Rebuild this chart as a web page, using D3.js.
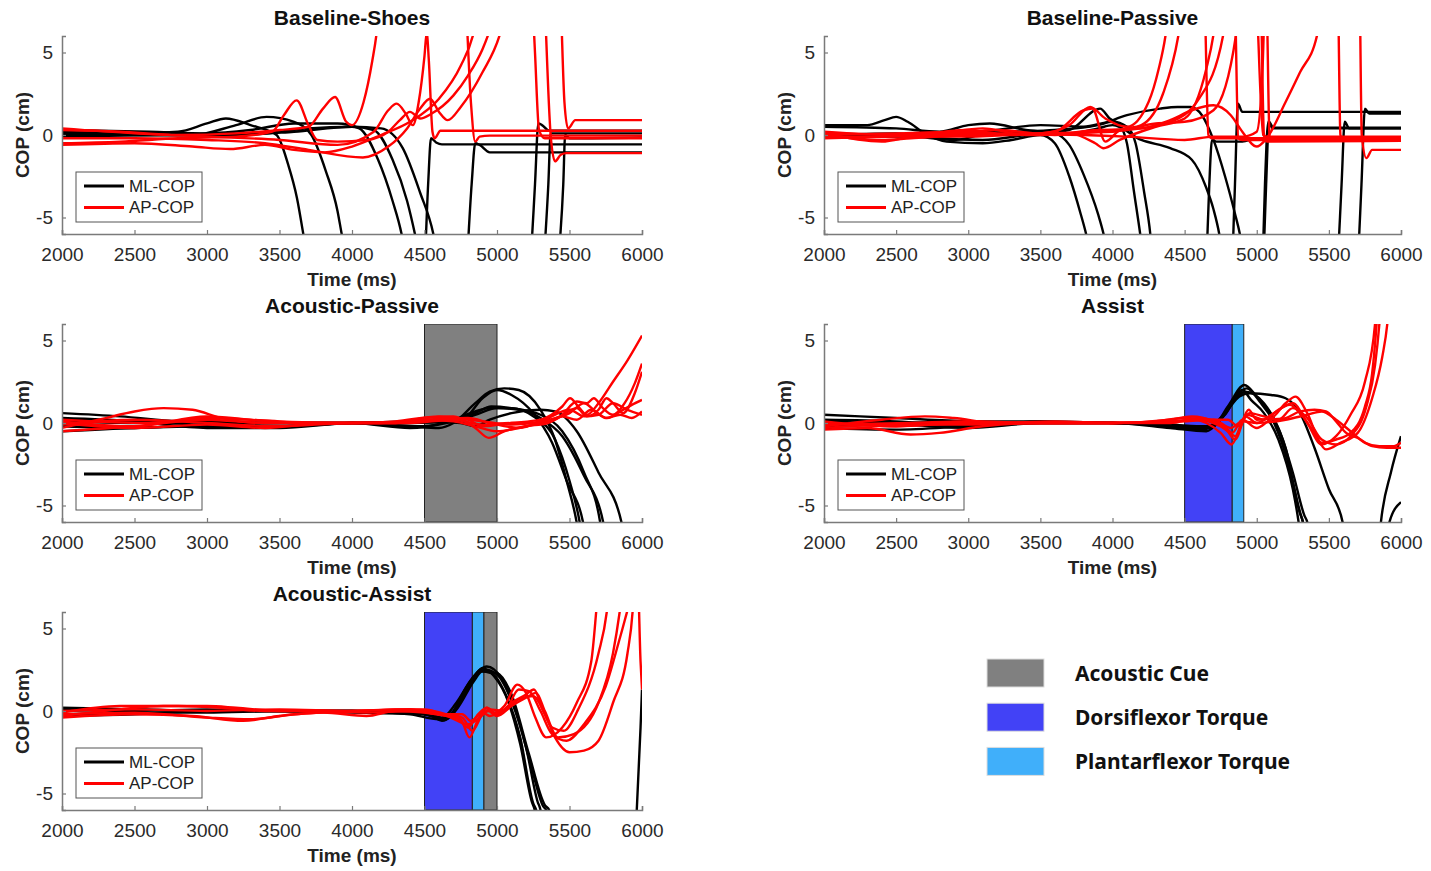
<!DOCTYPE html>
<html>
<head>
<meta charset="utf-8">
<script src="https://cdn.jsdelivr.net/npm/d3@7"></script>
<style>
  body { margin: 0; background: #fff; }
  svg { display: block; }
  .tick-label { font-family: "Liberation Sans", Arial, sans-serif; font-size: 19px; fill: #2a2a2a; }
  .ax-label { font-family: "Liberation Sans", Arial, sans-serif; font-size: 19px; font-weight: bold; fill: #222; }
  .ax-title { font-family: "Liberation Sans", Arial, sans-serif; font-size: 21px; font-weight: bold; fill: #111; }
  .leg-text { font-family: "Liberation Sans", Arial, sans-serif; font-size: 17px; fill: #222; }
  .key-text { font-family: "Noto Sans", "Open Sans", sans-serif; font-size: 21px; font-weight: bold; fill: #111; }
</style>
</head>
<body>
<div id="chart"></div>
<script>
// ---- data (time in ms, COP in cm) ----
const timeTicks = [2000, 2500, 3000, 3500, 4000, 4500, 5000, 5500, 6000];
const copTicks = [-5, 0, 5];
const panelTitles = ['Baseline-Shoes', 'Baseline-Passive', 'Acoustic-Passive', 'Assist', 'Acoustic-Assist'];
const keyLabels = ['Acoustic Cue', 'Dorsiflexor Torque', 'Plantarflexor Torque'];

// Baseline-Shoes
const shoesML = [
  [[2000,0.2],[2500,0.1],[2800,0.2],[3000,0.7],[3130,1.0],[3300,0.6],[3480,0],[3560,-1.8],[3620,-3.8],[3664,-6],[3700,-8],[3800,-15],[4400,-15],[4500,-8],[4525,-3],[4545,-0.2],[4580,-0.45],[4620,-0.57],[6000,-0.57]],
  [[2000,0],[2500,0],[2900,0],[3200,0.6],[3411,1.1],[3600,0.8],[3720,0],[3820,-2.2],[3900,-4.6],[3929,-6],[4000,-9],[4100,-15],[4700,-15],[4790,-8],[4825,-3],[4850,-0.5],[4880,-0.6],[4950,-1.05],[6000,-1.05]],
  [[2000,0.3],[2600,0.2],[3000,0.1],[3300,0.3],[3600,0.7],[3900,0.7],[4050,0.4],[4180,-1.5],[4280,-4],[4342,-6],[4400,-9],[4500,-15],[5150,-15],[5230,-8],[5262,-3],[5285,0.7],[5310,0.6],[5360,0.26],[6000,0.26]],
  [[2000,0.1],[2600,0],[3000,0],[3400,0.1],[3700,0.4],[4000,0.5],[4150,0.3],[4280,-1.5],[4380,-4],[4434,-6],[4500,-9],[4600,-15],[5250,-15],[5320,-8],[5354,-3],[5370,0.1],[6000,0.1]],
  [[2000,-0.1],[2700,0],[3200,0],[3600,0.2],[4000,0.5],[4200,0.4],[4350,-0.8],[4470,-3.5],[4561,-6],[4620,-9],[4700,-15],[5350,-15],[5420,-8],[5457,-3],[5470,0],[5500,-0.2],[6000,-0.15]]
];
const shoesAP = [
  [[2000,0.3],[2400,0.2],[2800,0],[3200,0.1],[3500,0.3],[3700,0.5],[3800,1.6],[3883,2.3],[3960,0.8],[4000,0.6],[4080,2.0],[4140,4.5],[4170,6.2],[4200,9],[4260,15],[4700,15],[4780,9],[4820,2],[4850,-0.4],[4880,-0.1],[4950,-0.04],[6000,-0.04]],
  [[2000,-0.5],[2400,-0.4],[2800,-0.2],[3200,-0.1],[3450,0.2],[3530,1.2],[3618,2.1],[3700,0.6],[3760,-0.3],[3900,-0.4],[4100,-0.3],[4250,0.2],[4330,0.9],[4400,1.4],[4470,1.0],[4550,1.3],[4700,2.4],[4800,3.6],[4900,5.2],[4940,6.1],[5000,8],[5100,15],[5200,15],[5240,9],[5262,5],[5290,0.3],[5330,-0.2],[6000,-0.2]],
  [[2000,0.4],[2500,0.1],[3000,-0.1],[3500,-0.3],[3900,-0.6],[4150,0.2],[4250,1.5],[4308,1.9],[4370,1.3],[4420,0.6],[4460,2],[4500,4.8],[4515,6.2],[4530,4.5],[4555,0.2],[4570,-0.2],[4610,0.26],[6000,0.26]],
  [[2000,-0.6],[2500,-0.5],[2900,-0.7],[3160,-0.85],[3400,-0.6],[3600,-0.9],[3810,-1.05],[4000,-0.7],[4200,0],[4400,0.8],[4600,2.2],[4750,4.2],[4836,6.1],[4900,9],[5000,15],[5300,15],[5330,8],[5370,0],[5400,-1.6],[5440,-1.2],[5480,-1.1],[6000,-1.1]],
  [[2000,-0.2],[2500,-0.2],[3000,-0.3],[3400,-0.5],[3700,-0.9],[4075,-1.36],[4250,-0.7],[4380,0.4],[4470,1.6],[4538,2.2],[4600,1.4],[4660,0.9],[4750,1.7],[4900,3.8],[5020,6.1],[5100,9],[5200,15],[5400,15],[5440,8],[5465,2],[5490,0.4],[5540,0.9],[6000,0.9]]
];

// Baseline-Passive
const passiveML = [
  [[2000,0.6],[2300,0.6],[2420,0.9],[2500,1.1],[2580,0.8],[2700,0.1],[2850,-0.4],[3100,-0.5],[3300,-0.3],[3500,0],[3600,-0.5],[3700,-2.5],[3780,-4.8],[3817,-6],[3900,-10],[4000,-15],[4600,-15],[4650,-8],[4671,-3],[4690,-0.3],[4720,-0.4],[4900,-0.4],[5000,-0.2],[6000,-0.2]],
  [[2000,0.5],[2500,0.4],[2800,0.2],[3000,0.6],[3150,0.7],[3400,0.3],[3600,0.1],[3700,-0.6],[3800,-2.4],[3900,-4.8],[3938,-6],[4000,-9],[4100,-15],[4800,-15],[4830,-8],[4849,-3],[4870,1.9],[4900,1.4],[6000,1.4]],
  [[2000,0],[2500,0.1],[2800,-0.2],[3100,-0.3],[3400,0],[3700,0.3],[3914,1.6],[3980,1.0],[4050,0.6],[4100,-0.5],[4150,-3.5],[4192,-6],[4250,-10],[4300,-15],[5000,-15],[5040,-8],[5057,-3],[5080,0.8],[5110,0.4],[6000,0.4]],
  [[2000,-0.1],[2600,-0.1],[2900,-0.3],[3200,0.3],[3500,0.6],[3800,0.5],[4000,0.8],[4100,0.5],[4160,-0.5],[4220,-3.5],[4262,-6],[4300,-10],[4400,-15],[5000,-15],[5045,-8],[5065,-3],[5085,0.8],[5115,0.45],[6000,0.45]],
  [[2000,0],[2800,0],[3300,0.2],[3600,0.3],[3900,0.6],[4100,1.2],[4330,1.6],[4450,1.7],[4540,1.7],[4620,1.2],[4700,-0.3],[4780,-2.5],[4850,-4.8],[4883,-6],[4950,-10],[5050,-15],[5500,-15],[5560,-8],[5588,-3],[5610,0.8],[5640,0.4],[6000,0.4]],
  [[2000,0.1],[2800,0],[3300,0.1],[3700,0.1],[3900,0.4],[4000,0.6],[4200,-0.3],[4400,-0.8],[4550,-1.5],[4650,-3.2],[4700,-4.5],[4740,-6],[4800,-10],[4900,-15],[5650,-15],[5700,-8],[5726,-3],[5750,1.6],[5780,1.3],[6000,1.3]]
];
const passiveAP = [
  [[2000,0.1],[2400,-0.4],[2600,-0.1],[3000,0.3],[3200,0.1],[3500,0.1],[3700,0.6],[3845,1.7],[3950,1.0],[4100,0.5],[4250,2],[4320,4],[4367,6],[4420,10],[4500,15],[4600,15],[4640,8],[4665,0],[4690,-0.2],[6000,-0.2]],
  [[2000,0],[2500,0.1],[3000,0.2],[3300,0],[3600,0.2],[3800,1.5],[3860,1.6],[3950,-0.4],[4050,0.3],[4200,0.6],[4350,2.5],[4456,6],[4520,10],[4600,15],[4800,15],[4850,8],[4872,-0.2],[4900,-0.3],[6000,-0.3]],
  [[2000,-0.2],[2400,-0.1],[2800,0.1],[3100,0.4],[3400,0],[3700,0.1],[3880,-0.5],[3938,-0.8],[4050,-0.3],[4300,0.5],[4500,1.0],[4650,4],[4700,6.1],[4750,10],[4850,15],[5000,15],[5030,8],[5050,0],[5070,-0.4],[6000,-0.35]],
  [[2000,0.2],[2500,0],[3000,0.1],[3500,0],[3900,0.3],[4200,0.4],[4400,0.9],[4550,1.5],[4700,1.8],[4820,1.2],[4900,0.2],[5000,-0.7],[5060,-0.3],[5200,2.0],[5300,3.8],[5417,6],[5480,10],[5520,15],[5550,15],[5565,8],[5580,0],[5600,-0.3],[6000,-0.2]],
  [[2000,0],[2400,-0.3],[2600,-0.2],[3000,0],[3500,0.05],[3800,0],[4100,-0.1],[4500,-0.3],[4700,-0.1],[4900,-0.1],[5000,0.2],[5040,4],[5060,10],[5080,15],[5700,15],[5715,8],[5728,0],[5760,-1.4],[5800,-0.9],[6000,-0.9]],
  [[2000,0.1],[2800,0],[3200,0.3],[3600,0],[3900,0.2],[4100,0.3],[4400,0.8],[4600,2.2],[4766,6],[4800,9],[4850,15],[4950,15],[5000,8],[5045,0],[5070,-0.1],[6000,-0.1]],
  [[2000,-0.1],[3000,-0.1],[3500,0.1],[4000,0.2],[4300,0.7],[4500,0.8],[4700,1.5],[4855,6],[4900,10],[4950,15],[5050,15],[5070,8],[5090,-0.2],[6000,-0.15]]
];

// Acoustic-Passive
const acPassiveML = [
  [[2000,0.6],[2400,0.4],[2800,0.1],[3200,0],[3600,0],[4000,0],[4400,-0.2],[4600,-0.3],[4700,0],[4850,1.2],[4950,1.9],[5050,2.1],[5150,2.0],[5300,0.8],[5400,-1],[5480,-3.5],[5549,-6],[5600,-9],[5700,-15],[6000,-15]],
  [[2000,0.2],[2500,0.1],[3000,-0.1],[3500,0],[4000,0],[4400,-0.3],[4650,0],[4780,0.3],[4900,1.5],[5000,2.0],[5100,1.7],[5250,0.6],[5380,-1.2],[5480,-3.5],[5593,-6],[5650,-9],[5700,-15],[6000,-15]],
  [[2000,-0.2],[2500,-0.3],[3000,-0.1],[3500,-0.2],[4000,0],[4400,0.1],[4700,0.2],[4850,0.6],[4960,1.0],[5100,0.9],[5300,0.5],[5450,-0.5],[5600,-3],[5711,-6],[5750,-9],[5800,-15],[6000,-15]],
  [[2000,-0.5],[2500,-0.3],[3000,-0.2],[3500,-0.2],[4000,0],[4400,0],[4700,0.1],[4850,0.5],[5000,0.9],[5150,0.8],[5300,0.3],[5450,-0.8],[5600,-3.2],[5732,-6],[5780,-9],[5850,-15],[6000,-15]],
  [[2000,0.1],[2500,0],[3000,0.1],[3500,0],[4000,0],[4500,0.1],[4750,0],[4850,-0.2],[4950,0.2],[5100,0.6],[5300,0.8],[5400,0.7],[5550,-0.5],[5700,-3],[5858,-6],[5900,-9],[6000,-15]],
  [[2000,0.3],[2500,0.1],[3000,-0.3],[3500,-0.3],[4000,0],[4500,-0.2],[4700,0.2],[4850,0.7],[4950,0.9],[5100,0.9],[5250,0.4],[5400,-1],[5500,-3.5],[5570,-6],[5620,-9],[5700,-15],[6000,-15]]
];
const acPassiveAP = [
  [[2000,-0.3],[2300,0.3],[2500,0.7],[2700,0.9],[2900,0.8],[3100,0.3],[3400,0],[3700,0],[4000,0],[4300,0.1],[4600,0.4],[4800,0.2],[4900,-0.2],[5100,0],[5300,0.2],[5450,1.0],[5504,1.5],[5560,1.0],[5620,0.5],[5700,1.2],[5800,2.5],[5900,3.8],[6000,5.3]],
  [[2000,0.1],[2500,-0.2],[3000,0.4],[3300,0.2],[3700,0],[4000,0],[4300,0],[4500,0.3],[4700,0.4],[4850,-0.3],[4944,-0.9],[5050,-0.5],[5200,-0.2],[5350,0],[5450,0.5],[5550,1.3],[5620,1.2],[5667,1.5],[5730,0.9],[5800,0.5],[5880,1.2],[5950,2.4],[6000,3.6]],
  [[2000,-0.5],[2500,-0.2],[3000,0.2],[3400,0],[3800,0],[4200,0],[4500,0.2],[4700,0.1],[4850,-0.2],[5000,-0.5],[5200,-0.2],[5400,0.2],[5550,0.9],[5620,0.4],[5700,0.8],[5755,1.5],[5800,1.2],[5870,0.6],[5950,1.8],[6000,3.1]],
  [[2000,0.2],[2600,0],[3000,0.3],[3500,0.1],[4000,0],[4400,0.1],[4700,0.3],[4900,0.1],[5100,-0.1],[5300,0.1],[5500,0.6],[5600,1.2],[5680,0.7],[5760,0.3],[5850,0.7],[5930,1.1],[6000,1.4]],
  [[2000,-0.1],[2500,0.2],[3000,0],[3500,-0.2],[4000,0],[4400,0],[4700,0.2],[4900,-0.1],[5100,0],[5300,0],[5450,0.4],[5550,0.2],[5650,0.8],[5750,0.3],[5850,0.5],[5930,0.3],[6000,0.7]],
  [[2000,0],[2500,-0.3],[3000,-0.1],[3400,-0.3],[3800,0],[4300,0],[4600,0.2],[4800,0.3],[4950,0],[5150,-0.3],[5350,0.3],[5500,0.8],[5600,0.4],[5700,0.5],[5800,1.2],[5900,0.8],[6000,0.5]]
];

// Assist
const assistML = [
  [[2000,0.5],[2500,0.3],[3000,0.1],[3500,0],[4000,0],[4400,-0.2],[4600,-0.4],[4700,-0.2],[4800,1.0],[4914,2.3],[5000,1.6],[5100,0.5],[5200,-1.5],[5300,-5.5],[5320,-6],[5360,-9],[5500,-15],[6000,-15]],
  [[2000,0.2],[2500,0.1],[3000,-0.2],[3500,0.1],[4000,0],[4400,-0.1],[4600,-0.3],[4720,0],[4830,1.3],[4930,2.1],[5020,1.3],[5120,0],[5220,-2.5],[5300,-5.4],[5320,-6],[5370,-9],[5500,-15],[6000,-15]],
  [[2000,-0.2],[2500,-0.1],[3000,-0.3],[3500,0],[4000,0],[4400,-0.3],[4650,-0.5],[4750,0.2],[4850,1.4],[4920,1.9],[5050,1.2],[5150,-0.3],[5250,-3.0],[5330,-5.6],[5350,-6],[5400,-9],[5500,-15],[6000,-15]],
  [[2000,-0.3],[2500,-0.4],[3000,-0.2],[3500,0],[4000,0],[4400,-0.2],[4650,-0.3],[4780,0.6],[4880,1.6],[4950,1.8],[5100,1.7],[5200,1.5],[5300,0.6],[5400,-1.5],[5500,-4],[5595,-6],[5650,-9],[5700,-15],[5800,-15],[5830,-9],[5861,-6],[5930,-3],[6000,-0.8]],
  [[2000,0.1],[2500,0],[3000,0.1],[3500,0.1],[4000,0],[4400,-0.1],[4650,-0.2],[4780,0.5],[4900,2.0],[4960,1.4],[5050,0.6],[5150,-1.0],[5250,-4],[5290,-6],[5330,-9],[5500,-15],[5880,-15],[5920,-6],[6000,-4.8]]
];
const assistAP = [
  [[2000,-0.4],[2300,-0.3],[2600,-0.7],[2800,-0.6],[3100,-0.2],[3500,0],[4000,0],[4300,0.1],[4500,0.3],[4650,0],[4750,-0.6],[4825,-1.3],[4880,-0.4],[4944,0.8],[5000,0.2],[5100,0.3],[5200,1.2],[5269,1.6],[5350,0.6],[5450,-1.2],[5550,-1.0],[5650,-0.6],[5750,1],[5800,3],[5831,6],[5860,10],[5900,15],[6000,15]],
  [[2000,-0.2],[2400,0.2],[2700,0.4],[2900,0.3],[3200,0],[3600,0.1],[4000,0],[4400,0.2],[4550,0.4],[4700,0.1],[4800,-0.4],[4850,-0.8],[4920,0.4],[5000,0],[5100,0.5],[5230,1.1],[5300,0.6],[5400,-0.6],[5480,-1.6],[5580,-1.2],[5700,-0.6],[5800,1.5],[5870,4],[5905,6],[5940,10],[6000,15]],
  [[2000,0],[2500,-0.2],[3000,0],[3500,0],[4000,0],[4400,0.1],[4600,0.2],[4750,-0.2],[4830,-0.6],[4900,0.2],[5000,-0.3],[5100,0.2],[5200,0.3],[5300,0.7],[5400,0.8],[5480,0.7],[5550,0.1],[5620,-0.6],[5700,-0.9],[5800,-1.4],[5900,-1.5],[6000,-1.5]],
  [[2000,-0.3],[2500,-0.1],[3000,-0.1],[3500,0],[4000,0],[4400,0],[4600,0.3],[4780,-0.3],[4850,-1.0],[4930,0.5],[5050,0.2],[5150,0.8],[5250,1.2],[5350,0],[5450,-1.3],[5550,-0.8],[5650,0.5],[5750,2.5],[5820,6],[5850,10],[5900,15],[6000,15]],
  [[2000,-0.1],[2600,0],[3000,0.1],[3500,0],[4000,0],[4400,0.1],[4600,0.2],[4800,0.2],[4870,-0.2],[4950,0.6],[5050,0.4],[5150,0.2],[5250,0.9],[5350,0.3],[5450,-1.0],[5550,-1.3],[5650,-0.8],[5760,1],[5820,3.5],[5850,6],[5880,10],[5950,15],[6000,15]],
  [[2000,0.1],[2500,-0.2],[3000,0.1],[3500,0],[4000,0],[4500,0.1],[4700,0.2],[4820,-0.3],[4900,0.1],[5000,0],[5200,0.2],[5350,0.5],[5450,0.7],[5550,0.2],[5650,-0.5],[5750,-1.2],[5850,-1.4],[5950,-1.4],[6000,-1.2]]
];

// Acoustic-Assist
const acAssistML = [
  [[2000,0.2],[2500,0.1],[3000,0],[3500,0],[4000,0],[4400,-0.1],[4550,-0.3],[4620,-0.6],[4680,-0.3],[4760,1.0],[4850,2.2],[4900,2.6],[4980,2.1],[5080,0.5],[5160,-2],[5240,-5.5],[5260,-6],[5300,-9],[5400,-15],[6000,-15]],
  [[2000,-0.2],[2500,-0.1],[3000,-0.1],[3500,0],[4000,0],[4400,-0.2],[4600,-0.5],[4700,0],[4800,1.6],[4920,2.5],[5000,2.2],[5100,0.6],[5200,-2.2],[5280,-5.5],[5300,-6],[5340,-9],[5450,-15],[6000,-15]],
  [[2000,0.1],[2500,0],[3000,0.1],[3500,0],[4000,-0.1],[4500,-0.2],[4620,-0.4],[4720,0.5],[4830,2.0],[4930,2.7],[5030,2.0],[5130,0],[5240,-3.5],[5320,-5.8],[5340,-6],[5380,-9],[5500,-15],[6000,-15]],
  [[2000,-0.3],[2500,-0.2],[3000,0],[3500,0],[4000,0],[4500,-0.1],[4650,-0.5],[4730,0.2],[4840,1.8],[4900,2.4],[5000,2.3],[5100,1],[5220,-2.6],[5330,-5.7],[5360,-6],[5400,-9],[5500,-15],[5900,-15],[5940,-9],[5964,-6],[5990,-1],[6000,1.3]],
  [[2000,0],[2500,0.1],[3000,0],[3500,0],[4000,0],[4500,-0.2],[4620,-0.5],[4700,-0.1],[4800,1.4],[4890,2.4],[4960,2.3],[5060,1.0],[5160,-1.6],[5250,-5.6],[5270,-6],[5320,-9],[5400,-15],[6000,-15]]
];
const acAssistAP = [
  [[2000,-0.3],[2400,0.1],[2700,0.3],[3000,0.3],[3200,0.2],[3500,0],[4000,0],[4400,0.1],[4550,0],[4650,-0.3],[4750,-0.5],[4810,-1.6],[4870,-0.5],[4930,0.2],[4980,-0.1],[5050,0.3],[5140,1.6],[5200,1.1],[5260,-0.3],[5340,-1.6],[5450,-1.0],[5550,0.5],[5650,3],[5684,6],[5720,10],[5800,15],[6000,15]],
  [[2000,-0.1],[2400,0.3],[2800,0.3],[3100,0.2],[3400,0],[3800,0],[4100,-0.1],[4400,0],[4600,-0.2],[4720,-0.4],[4800,-1.0],[4860,-0.3],[4930,0.2],[5000,-0.2],[5100,0.5],[5200,1.0],[5255,1.3],[5310,0.2],[5380,-1.0],[5460,-1.2],[5560,0.1],[5700,3.5],[5757,6],[5800,10],[5880,15],[6000,15]],
  [[2000,-0.4],[2500,-0.2],[2900,-0.3],[3250,-0.6],[3500,-0.3],[3800,-0.1],[4100,-0.3],[4300,0],[4500,-0.1],[4650,-0.3],[4800,-0.8],[4880,-0.4],[4940,0],[5000,-0.3],[5100,0.3],[5200,0.8],[5270,1.1],[5330,0],[5420,-1.6],[5530,-1.4],[5700,0.5],[5800,3.5],[5846,6],[5900,10],[5950,15],[6000,15]],
  [[2000,-0.2],[2500,-0.1],[3000,-0.4],[3300,-0.5],[3600,-0.2],[4000,0],[4400,0.1],[4600,-0.2],[4760,-0.2],[4820,-0.6],[4900,-0.1],[4950,-0.3],[5050,0.1],[5150,0.7],[5250,0.9],[5330,-0.2],[5400,-1.6],[5500,-2.5],[5600,-2.4],[5700,-1.8],[5800,0.5],[5900,3.5],[5935,6],[5960,10],[6000,15]],
  [[2000,0],[2500,0.1],[3000,0],[3500,0.1],[4000,0],[4300,0.1],[4500,0.1],[4650,-0.2],[4760,-0.4],[4830,-1.2],[4900,-0.2],[4950,0.1],[5050,0],[5150,1.3],[5220,1.2],[5300,0],[5380,-1.4],[5480,-1.8],[5600,-0.8],[5750,1.5],[5850,4.5],[5930,7],[5970,8],[5990,3],[6000,1.3]]
];

// shaded intervals [start, end, kind]
const shoesBands = [];
const passiveBands = [];
const acPassiveBands = [[4500, 5000, 'cue']];
const assistBands = [[4500, 4830, 'dorsi'], [4830, 4910, 'plantar']];
const acAssistBands = [[4500, 4830, 'dorsi'], [4830, 4910, 'plantar'], [4910, 5000, 'cue']];

const keyKinds = ['cue', 'dorsi', 'plantar'];
const bandColor = { cue: '#808080', dorsi: '#4242f6', plantar: '#40affa' };

// ---- layout ----
const W = 1431, H = 871;
const colX = [[62, 642], [824, 1401]];
const rowTop = [36, 324, 612];
const plotH = 198;

const panels = [
  { title: panelTitles[0], ml: shoesML, ap: shoesAP, bands: shoesBands, col: 0, row: 0 },
  { title: panelTitles[1], ml: passiveML, ap: passiveAP, bands: passiveBands, col: 1, row: 0 },
  { title: panelTitles[2], ml: acPassiveML, ap: acPassiveAP, bands: acPassiveBands, col: 0, row: 1 },
  { title: panelTitles[3], ml: assistML, ap: assistAP, bands: assistBands, col: 1, row: 1 },
  { title: panelTitles[4], ml: acAssistML, ap: acAssistAP, bands: acAssistBands, col: 0, row: 2 }
];

const svg = d3.select('#chart').append('svg')
  .attr('width', W)
  .attr('height', H);

const axisColor = '#7a7a7a';
const fmt = d => String(d); // plain hyphen for negatives, like the original

panels.forEach(function(p, i) {
  const x0 = colX[p.col][0], x1 = colX[p.col][1];
  const top = rowTop[p.row], bottom = top + plotH;

  const x = d3.scaleLinear().domain([2000, 6000]).range([x0, x1]);
  const y = d3.scaleLinear().domain([-6, 6]).range([bottom, top]);

  const g = svg.append('g').attr('class', 'panel');

  const clipId = 'clip' + i;
  svg.append('clipPath').attr('id', clipId)
    .append('rect')
      .attr('x', x0).attr('y', top)
      .attr('width', x1 - x0).attr('height', plotH);

  const plot = g.append('g').attr('clip-path', 'url(#' + clipId + ')');

  // shaded stimulation windows
  plot.selectAll('rect.band')
    .data(p.bands)
    .enter()
    .append('rect')
      .attr('class', 'band')
      .attr('x', d => x(d[0]))
      .attr('y', y(6))
      .attr('width', d => x(d[1]) - x(d[0]))
      .attr('height', y(-6) - y(6))
      .attr('fill', d => bandColor[d[2]])
      .attr('stroke', '#222')
      .attr('stroke-width', 1);

  const line = d3.line()
    .x(d => x(d[0]))
    .y(d => y(d[1]))
    .curve(d3.curveMonotoneX);

  plot.selectAll('path.ml')
    .data(p.ml)
    .enter()
    .append('path')
      .attr('class', 'ml')
      .attr('d', line)
      .attr('fill', 'none')
      .attr('stroke', '#000')
      .attr('stroke-width', 2.4);

  plot.selectAll('path.ap')
    .data(p.ap)
    .enter()
    .append('path')
      .attr('class', 'ap')
      .attr('d', line)
      .attr('fill', 'none')
      .attr('stroke', '#ff0000')
      .attr('stroke-width', 2.4);

  // axes (left + bottom only, inward ticks)
  const xAxis = d3.axisBottom(x).tickValues(timeTicks).tickSize(-4).tickPadding(10).tickFormat(fmt);
  const yAxis = d3.axisLeft(y).tickValues(copTicks).tickSize(-4).tickPadding(9).tickFormat(fmt);

  const gx = g.append('g').attr('transform', 'translate(0,' + bottom + ')').call(xAxis);
  const gy = g.append('g').attr('transform', 'translate(' + x0 + ',0)').call(yAxis);

  [gx, gy].forEach(function(a) {
    a.select('.domain').attr('stroke', axisColor).attr('stroke-width', 1.5);
    a.selectAll('.tick line').attr('stroke', axisColor).attr('stroke-width', 1.2);
    a.selectAll('.tick text').attr('class', 'tick-label').attr('font-size', null).attr('font-family', null).attr('fill', null);
  });
  gx.selectAll('.tick text').attr('dy', '0.9em');

  // labels
  g.append('text').attr('class', 'ax-title')
    .attr('x', (x0 + x1) / 2).attr('y', top - 11)
    .attr('text-anchor', 'middle')
    .text(p.title);

  g.append('text').attr('class', 'ax-label')
    .attr('x', (x0 + x1) / 2).attr('y', bottom + 52)
    .attr('text-anchor', 'middle')
    .text('Time (ms)');

  g.append('text').attr('class', 'ax-label')
    .attr('transform', 'translate(' + (x0 - 40) + ',' + y(0) + ') rotate(-90)')
    .attr('text-anchor', 'middle')
    .attr('dominant-baseline', 'central')
    .text('COP (cm)');

  // legend
  const lg = g.append('g').attr('transform', 'translate(' + (x0 + 14) + ',' + (bottom - 62) + ')');
  lg.append('rect')
    .attr('width', 126).attr('height', 50)
    .attr('fill', '#fff')
    .attr('stroke', '#555').attr('stroke-width', 1);
  [['ML-COP', '#000'], ['AP-COP', '#ff0000']].forEach(function(e, k) {
    const yy = 14 + k * 21.5;
    lg.append('line')
      .attr('x1', 8).attr('x2', 48).attr('y1', yy).attr('y2', yy)
      .attr('stroke', e[1]).attr('stroke-width', 3);
    lg.append('text').attr('class', 'leg-text')
      .attr('x', 53).attr('y', yy)
      .attr('dominant-baseline', 'central')
      .text(e[0]);
  });
});

// colour key for shaded windows
const key = svg.append('g');
keyKinds.forEach(function(k, i) {
  const yy = 659 + i * 44.2;
  key.append('rect')
    .attr('x', 987).attr('y', yy)
    .attr('width', 57).attr('height', 28)
    .attr('fill', bandColor[k])
    .attr('stroke', '#ddd').attr('stroke-width', 1);
  key.append('text').attr('class', 'key-text')
    .attr('x', 1075).attr('y', yy + 14)
    .attr('dominant-baseline', 'central')
    .text(keyLabels[i]);
});
</script>
</body>
</html>
